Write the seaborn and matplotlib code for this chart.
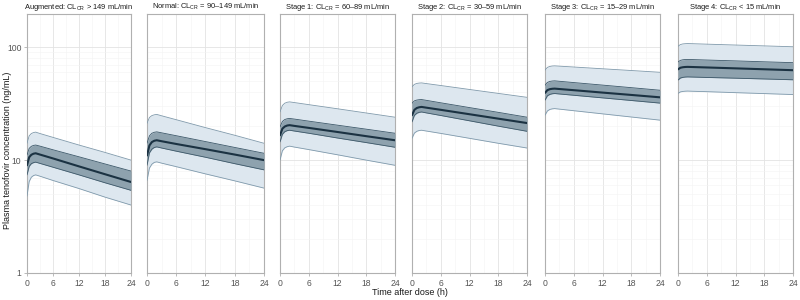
import numpy as np
import pandas as pd
import seaborn as sns
import matplotlib
matplotlib.use("Agg")
import matplotlib.pyplot as plt
from matplotlib.ticker import FixedLocator, MultipleLocator, NullFormatter

# time after dose (h)
time = [0, 0.5, 1, 1.5, 2, 3, 6, 12, 18, 24]

titles = [
    r"Augmented: CL$_\mathregular{CR}$ > 149 mL/min",
    r"Normal: CL$_\mathregular{CR}$ = 90–149 mL/min",
    r"Stage 1: CL$_\mathregular{CR}$ = 60–89 mL/min",
    r"Stage 2: CL$_\mathregular{CR}$ = 30–59 mL/min",
    r"Stage 3: CL$_\mathregular{CR}$ = 15–29 mL/min",
    r"Stage 4: CL$_\mathregular{CR}$ < 15 mL/min",
]

# 95th / 75th / median / 25th / 5th percentiles per renal group (ng/mL)
p95 = [
    [14.1, 16.4, 17.2, 17.55, 17.7, 17.2, 15.9, 13.6, 11.7, 10.0],
    [21.2, 23.85, 24.8, 25.2, 25.4, 24.7, 22.8, 19.4, 16.6, 14.1],
    [26.7, 30.5, 31.95, 32.55, 32.8, 32.35, 31.0, 28.5, 26.15, 24.0],
    [44.6, 46.9, 47.8, 48.15, 48.3, 47.65, 45.8, 42.25, 39.0, 36.0],
    [62.7, 66.3, 67.6, 68.2, 68.4, 68.0, 66.8, 64.45, 62.2, 60.0],
    [102, 105.6, 107.0, 107.5, 107.8, 107.5, 106.5, 104.6, 102.8, 101],
]
p75 = [
    [11.1, 12.7, 13.25, 13.5, 13.6, 13.3, 12.35, 10.7, 9.25, 8.0],
    [14.1, 16.4, 17.3, 17.65, 17.8, 17.45, 16.45, 14.6, 12.95, 11.5],
    [19.7, 22.0, 22.9, 23.25, 23.4, 23.1, 22.15, 20.4, 18.8, 17.3],
    [31.9, 33.5, 34.05, 34.3, 34.4, 33.85, 32.2, 29.2, 26.5, 24.0],
    [46.0, 48.8, 49.8, 50.2, 50.4, 49.95, 48.65, 46.2, 43.85, 41.6],
    [74.0, 76.5, 77.45, 77.85, 78.0, 77.75, 77.05, 75.7, 74.3, 73.0],
]
p50 = [
    [9.0, 10.6, 11.15, 11.4, 11.5, 11.2, 10.35, 8.8, 7.5, 6.4],
    [11.0, 13.5, 14.45, 14.85, 15.0, 14.7, 13.9, 12.5, 11.2, 10.0],
    [16.6, 19.0, 19.85, 20.25, 20.4, 20.1, 19.3, 17.75, 16.3, 15.0],
    [25.0, 27.9, 28.95, 29.4, 29.6, 29.15, 27.9, 25.5, 23.3, 21.3],
    [39.4, 41.7, 42.5, 42.85, 43.0, 42.65, 41.65, 39.65, 37.8, 36.0],
    [63.7, 65.8, 66.5, 66.85, 67.0, 66.8, 66.2, 65.0, 63.8, 62.6],
]
p25 = [
    [7.4, 8.8, 9.3, 9.5, 9.6, 9.35, 8.65, 7.4, 6.3, 5.4],
    [9.0, 11.6, 12.5, 12.95, 13.1, 12.8, 12.0, 10.6, 9.3, 8.2],
    [14.5, 16.95, 17.85, 18.25, 18.4, 18.1, 17.3, 15.7, 14.3, 13.0],
    [21.8, 24.9, 26.0, 26.5, 26.7, 26.2, 24.85, 22.3, 20.0, 18.0],
    [34.0, 37.1, 38.2, 38.7, 38.9, 38.55, 37.55, 35.6, 33.75, 32.0],
    [51.2, 53.35, 54.1, 54.45, 54.6, 54.45, 54.0, 53.2, 52.35, 51.5],
]
p05 = [
    [4.8, 6.45, 7.05, 7.3, 7.4, 7.2, 6.6, 5.6, 4.7, 4.0],
    [6.6, 8.5, 9.2, 9.55, 9.65, 9.4, 8.75, 7.55, 6.55, 5.65],
    [10.0, 12.1, 12.85, 13.15, 13.3, 13.05, 12.4, 11.15, 10.0, 9.0],
    [15.6, 17.35, 18.0, 18.3, 18.4, 18.1, 17.25, 15.6, 14.1, 12.8],
    [25.0, 27.25, 28.1, 28.45, 28.6, 28.3, 27.4, 25.7, 24.1, 22.6],
    [39.0, 40.2, 40.6, 40.8, 40.9, 40.75, 40.4, 39.6, 38.85, 38.1],
]

sns.set_theme(style="white")
plt.rcParams['font.family'] = ['Liberation Sans', 'DejaVu Sans']
plt.rcParams['mathtext.fontset'] = 'custom'
plt.rcParams['mathtext.rm'] = 'Liberation Sans'

fig = plt.figure(figsize=(8, 3), dpi=100)

# panel left/right edges in pixels
lefts = [27, 147, 280, 412, 545, 678]
rights = [131, 264, 395, 527, 660, 793]
W, H = 800, 300
top_px, bot_px = 14, 273

light_fill = "#dde7ef"
light_edge = "#7f99ab"
dark_fill = "#8ea2ae"
dark_edge = "#3d5869"
med_col = "#1b3242"

for i in range(6):
    ax = fig.add_axes([lefts[i] / W, (H - bot_px) / H,
                       (rights[i] - lefts[i]) / W, (bot_px - top_px) / H])
    df = pd.DataFrame({"time": time, "p95": p95[i], "p75": p75[i],
                       "p50": p50[i], "p25": p25[i], "p05": p05[i]})

    ax.fill_between(df["time"], df["p05"], df["p95"], color=light_fill, lw=0, zorder=2)
    ax.plot(df["time"], df["p95"], color=light_edge, lw=0.6, zorder=3)
    ax.plot(df["time"], df["p05"], color=light_edge, lw=0.6, zorder=3)
    ax.fill_between(df["time"], df["p25"], df["p75"], color=dark_fill, lw=0, zorder=4)
    ax.plot(df["time"], df["p75"], color=dark_edge, lw=0.6, zorder=5)
    ax.plot(df["time"], df["p25"], color=dark_edge, lw=0.6, zorder=5)
    sns.lineplot(data=df, x="time", y="p50", ax=ax, color=med_col, lw=1.5, zorder=6)

    ax.set_yscale("log")
    ax.set_ylim(1, 197)
    ax.set_xlim(0, 24)
    ax.xaxis.set_major_locator(FixedLocator([0, 6, 12, 18, 24]))
    ax.xaxis.set_minor_locator(MultipleLocator(3))
    ax.yaxis.set_major_locator(FixedLocator([1, 10, 100]))
    ax.yaxis.set_minor_formatter(NullFormatter())
    ax.grid(which="major", color="#e3e3e3", lw=0.6, zorder=0)
    ax.grid(which="minor", color="#f3f3f3", lw=0.4, zorder=0)
    ax.set_axisbelow(True)
    for s in ax.spines.values():
        s.set_color("#b0b0b0")
        s.set_linewidth(0.8)
    ax.tick_params(which="major", length=2.5, width=0.6, color="#b0b0b0",
                   labelsize=6.2, labelcolor="#555555", pad=1.5,
                   bottom=True, left=True)
    ax.tick_params(which="minor", length=0)
    if i == 0:
        ax.set_yticklabels(["1", "10", "100"])
    else:
        ax.tick_params(axis="y", left=False, labelleft=False)
    ax.set_xticklabels(["0", "6", "12", "18", "24"])
    ax.set_xlabel("")
    ax.set_ylabel("")
    ax.set_title(titles[i], fontsize=5.4, color="#1a1a1a", pad=3.5)

fig.text(0.512, 0.01, "Time after dose (h)", ha="center", va="bottom",
         fontsize=6.5, color="#1a1a1a")
fig.text(0.004, 0.5, "Plasma tenofovir concentration (ng/mL)", rotation=90,
         ha="left", va="center", fontsize=6.5, color="#1a1a1a")

fig.savefig("out.png", dpi=100)
